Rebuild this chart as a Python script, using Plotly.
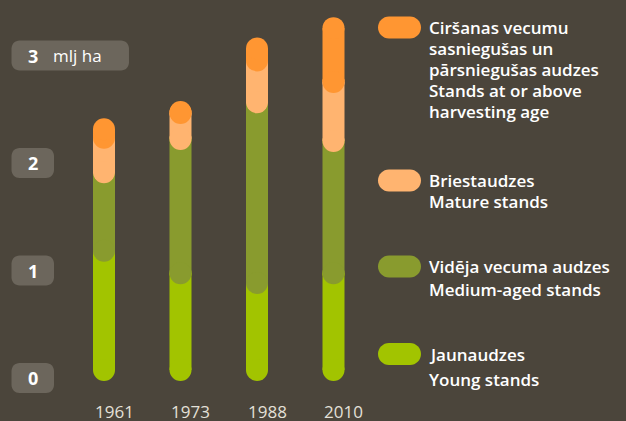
import plotly.graph_objects as go

# ---------------- data ----------------
years = ["1961", "1973", "1988", "2010"]
young = [1.11, 0.90, 0.81, 0.90]          # Jaunaudzes / Young stands
medium = [0.73, 1.25, 1.68, 1.23]         # Vidēja vecuma audzes / Medium-aged stands
mature = [0.32, 0.24, 0.39, 0.55]         # Briestaudzes / Mature stands
harvest = [0.08, 0.01, 0.11, 0.50]        # Ciršanas vecumu sasnieguš. un pārsnieguš. audzes
tick_values = [0, 1, 2, 3]
tick_labels = ["0", "1", "2", "3"]
unit_label = "mlj ha"

legend_lines = [
    ["Ciršanas vecumu", "sasniegušas un", "pārsniegušas audzes", "Stands at or above", "harvesting age"],
    ["Briestaudzes", "Mature stands"],
    ["Vidēja vecuma audzes", "Medium-aged stands"],
    ["Jaunaudzes", "Young stands"],
]

# ---------------- style ----------------
W, H = 626, 421
BG = "#4b453b"
BOX = "#6c665c"
C_YOUNG = "#a2c400"
C_MED = "#899b2e"
C_MAT = "#ffb470"
C_HARV = "#ff9632"
FONT = "Open Sans"
BAR_W = 22

# axis geometry (plot area spans whole canvas)
ZERO_PX, PX_PER_UNIT = 370.0, 107.5
X0_PX, PX_PER_CAT = 104.0, 76.5
y_range = [-(H - ZERO_PX) / PX_PER_UNIT, ZERO_PX / PX_PER_UNIT]
x_range = [-X0_PX / PX_PER_CAT, (W - X0_PX) / PX_PER_CAT]


def y_to_px(v):
    return H * (1 - (v - y_range[0]) / (y_range[1] - y_range[0]))


def rrect(x0, y0, x1, y1, r):
    k = 0.5523 * r
    def p(x, y):
        return f"{x / W:.6f},{1 - y / H:.6f}"
    return (f"M{p(x0 + r, y0)} L{p(x1 - r, y0)} "
            f"C{p(x1 - r + k, y0)} {p(x1, y0 + r - k)} {p(x1, y0 + r)} "
            f"L{p(x1, y1 - r)} "
            f"C{p(x1, y1 - r + k)} {p(x1 - r + k, y1)} {p(x1 - r, y1)} "
            f"L{p(x0 + r, y1)} "
            f"C{p(x0 + r - k, y1)} {p(x0, y1 - r + k)} {p(x0, y1 - r)} "
            f"L{p(x0, y0 + r)} "
            f"C{p(x0, y0 + r - k)} {p(x0 + r - k, y0)} {p(x0 + r, y0)} Z")


fig = go.Figure()

series = [(young, C_YOUNG), (medium, C_MED), (mature, C_MAT), (harvest, C_HARV)]
base = [0.0] * len(years)
for vals, col in series:
    xs, ys = [], []
    for i, v in enumerate(vals):
        xs += [i, i, None]
        ys += [base[i], base[i] + v, None]
    fig.add_trace(go.Scatter(
        x=xs, y=ys, mode="lines+markers",
        line=dict(color=col, width=BAR_W),
        marker=dict(size=BAR_W, color=col, line=dict(width=0)),
        hoverinfo="skip", showlegend=False, cliponaxis=False,
    ))
    base = [b + v for b, v in zip(base, vals)]

shapes = []
annotations = []

# y tick label boxes
LABEL_SHIFT = 8
for v, t in zip(tick_values, tick_labels):
    cy = y_to_px(v) + LABEL_SHIFT
    x1 = 129 if v == tick_values[-1] else 54
    shapes.append(dict(type="path", xref="paper", yref="paper",
                       path=rrect(11.5, cy - 15, x1, cy + 15, 8),
                       fillcolor=BOX, line=dict(width=0), layer="below"))
    annotations.append(dict(x=32.5 / W, xref="paper", y=v, yref="y", yshift=-LABEL_SHIFT,
                            text=f"<b>{t}</b>", showarrow=False, xanchor="center", yanchor="middle",
                            font=dict(family=FONT, size=18, color="#ffffff")))
annotations.append(dict(x=51 / W, xref="paper", y=tick_values[-1], yref="y", yshift=-LABEL_SHIFT,
                        text=unit_label, showarrow=False, xanchor="left", yanchor="middle",
                        font=dict(family=FONT, size=17, color="#ffffff")))

# year labels
for i, yr in enumerate(years):
    annotations.append(dict(x=i, xref="x", y=1 - 411 / H, yref="paper", xshift=10,
                            text=yr, showarrow=False, xanchor="center", yanchor="middle",
                            height=18, valign="middle", borderpad=0,
                            font=dict(family=FONT, size=17, color="#e4e0d8")))

# legend
leg_colors = [C_HARV, C_MAT, C_MED, C_YOUNG]
leg_first = [27.5, 180.5, 266.5, 354]
leg_step = [21, 20.5, 22.5, 25.5]
for lines, col, y0, st in zip(legend_lines, leg_colors, leg_first, leg_step):
    shapes.append(dict(type="path", xref="paper", yref="paper",
                       path=rrect(378, y0 - 11, 421, y0 + 11, 11),
                       fillcolor=col, line=dict(width=0), layer="below"))
    for j, ln in enumerate(lines):
        annotations.append(dict(x=426.5 / W, xref="paper", y=1 - (y0 + j * st) / H, yref="paper",
                                text=ln, showarrow=False, xanchor="left", yanchor="middle",
                                font=dict(family=FONT, size=17, color="#ffffff", weight=600)))

fig.update_layout(
    width=W, height=H, margin=dict(l=0, r=0, t=0, b=0),
    paper_bgcolor=BG, plot_bgcolor=BG,
    xaxis=dict(range=x_range, visible=False, fixedrange=True),
    yaxis=dict(range=y_range, visible=False, fixedrange=True),
    showlegend=False, shapes=shapes, annotations=annotations,
)

fig.write_html("out.html", config={"displayModeBar": False, "staticPlot": True},
               post_script="document.body.style.margin='0';document.body.style.background='" + BG + "';")
